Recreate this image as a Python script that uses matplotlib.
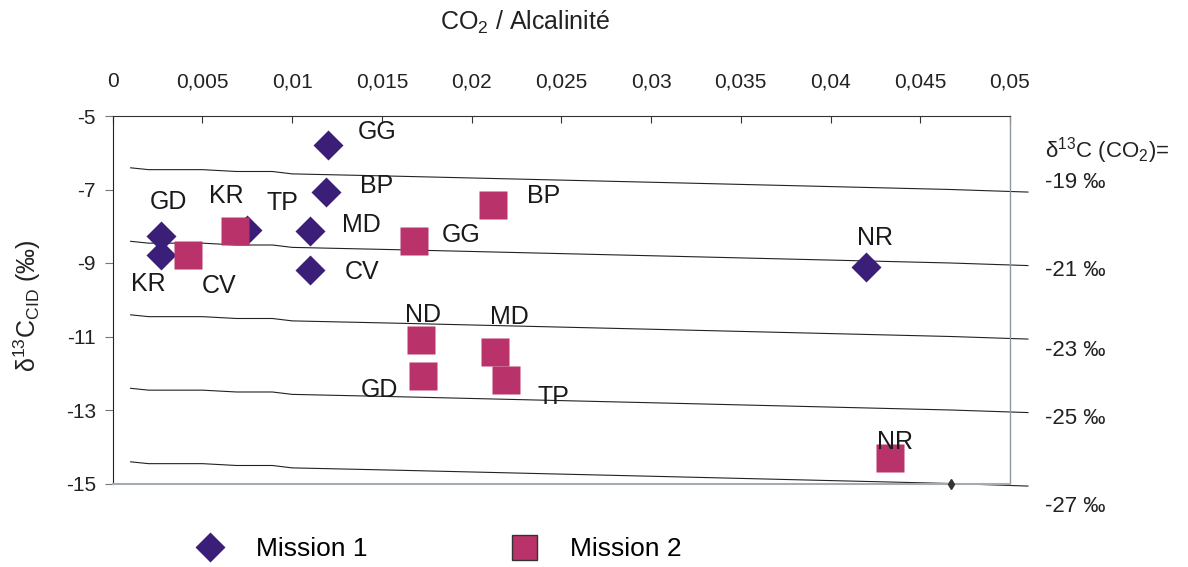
import matplotlib
matplotlib.use("Agg")
import matplotlib.pyplot as plt

plt.rcParams['font.family'] = ['Liberation Sans', 'DejaVu Sans']
plt.rcParams['mathtext.fontset'] = 'custom'
plt.rcParams['mathtext.rm'] = 'Liberation Sans'
plt.rcParams['mathtext.it'] = 'Liberation Sans'
plt.rcParams['axes.unicode_minus'] = False

# Mission 1 (losanges)
m1_sites = ['GG', 'BP', 'MD', 'CV', 'GD', 'KR', 'TP', 'NR']
m1_x = [0.0120, 0.0119, 0.0110, 0.0110, 0.0027, 0.0027, 0.0075, 0.0420]
m1_y = [-5.79, -7.08, -8.12, -9.20, -8.27, -8.77, -8.10, -9.10]

# Mission 2 (carres)
m2_sites = ['CV', 'KR', 'GG', 'BP', 'ND', 'GD', 'MD', 'TP', 'NR']
m2_x = [0.0042, 0.0068, 0.0168, 0.0212, 0.0172, 0.0173, 0.0213, 0.0219, 0.0433]
m2_y = [-8.79, -8.14, -8.41, -7.43, -11.09, -12.07, -11.42, -12.18, -14.31]

# courbes d13C(CO2) = -19 ... -27 permil
ref_x = [0.001, 0.002, 0.005, 0.0069, 0.0089, 0.010, 0.016, 0.0315, 0.0467, 0.051]
line_19 = [-6.41, -6.46, -6.46, -6.51, -6.51, -6.575, -6.64, -6.82, -7.00, -7.07]
line_21 = [-8.41, -8.46, -8.46, -8.51, -8.51, -8.575, -8.64, -8.82, -9.00, -9.07]
line_23 = [-10.41, -10.46, -10.46, -10.51, -10.51, -10.575, -10.64, -10.82, -11.00, -11.07]
line_25 = [-12.41, -12.46, -12.46, -12.51, -12.51, -12.575, -12.64, -12.82, -13.00, -13.07]
line_27 = [-14.41, -14.46, -14.46, -14.51, -14.51, -14.575, -14.64, -14.82, -15.00, -15.07]
ref_lines = [line_19, line_21, line_23, line_25, line_27]
ref_names = ['-19 ‰', '-21 ‰', '-23 ‰', '-25 ‰', '-27 ‰']

x_ticks = [0, 0.005, 0.01, 0.015, 0.02, 0.025, 0.03, 0.035, 0.04, 0.045, 0.05]
x_ticklabels = ['0', '0,005', '0,01', '0,015', '0,02', '0,025', '0,03', '0,035',
                '0,04', '0,045', '0,05']
y_ticks = [-15, -13, -11, -9, -7, -5]

# label offsets in pixels (dx right, dy down)
m1_off = {'GG': (49, -13), 'BP': (50, -6), 'MD': (51, -6), 'CV': (52, 2),
          'GD': (7, -34), 'KR': (-13, 29), 'TP': (35, -27), 'NR': (9, -29)}
m2_off = {'CV': (31, 31), 'KR': (-8, -35), 'GG': (47, -6), 'BP': (50, -9),
          'ND': (2, -25), 'GD': (-44, 14), 'MD': (14, -35), 'TP': (48, 17),
          'NR': (5, -16)}

c1 = '#3b1e77'
c2 = '#b9336a'

fig = plt.figure(figsize=(11.88, 5.67), dpi=100)
ax = fig.add_axes([112.7 / 1188, 1 - 483.5 / 567, (1010 - 112.7) / 1188, (483.5 - 116) / 567])

for ly in ref_lines:
    ax.plot(ref_x, ly, color='#222222', lw=0.8, clip_on=False, zorder=2)
ax.plot([ref_x[8]], [line_27[8]], marker='d', color='#333333', ms=5, clip_on=False, zorder=3)

ax.plot(m1_x, m1_y, 'D', color=c1, ms=15, mec='none', label='Mission 1', zorder=4)
ax.plot(m2_x, m2_y, 's', color=c2, ms=20.5, mec='none', label='Mission 2', zorder=5)

for name, x, y in zip(m1_sites, m1_x, m1_y):
    dx, dy = m1_off[name]
    ax.annotate(name, (x, y), xytext=(dx * 0.72, -dy * 0.72), textcoords='offset points',
                ha='center', va='center', fontsize=18, color='#1a1a1a', zorder=6)
for name, x, y in zip(m2_sites, m2_x, m2_y):
    dx, dy = m2_off[name]
    ax.annotate(name, (x, y), xytext=(dx * 0.72, -dy * 0.72), textcoords='offset points',
                ha='center', va='center', fontsize=18, color='#1a1a1a', zorder=6)

ax.set_xlim(0, 0.05)
ax.set_ylim(-15, -5)
ax.xaxis.tick_top()
ax.set_xticks(x_ticks)
ax.set_xticklabels(x_ticklabels)
ax.set_yticks(y_ticks)
ax.tick_params(axis='x', direction='in', length=5, width=0.8, color='#333333',
               labelsize=15, pad=18, labelcolor='#222222')
ax.tick_params(axis='y', direction='out', length=6, width=0.8, color='#777777',
               labelsize=15, pad=6, labelcolor='#222222')

ax.spines['left'].set_color('#222222')
ax.spines['top'].set_color('#333333')
ax.spines['bottom'].set_color('#a4abb3')
ax.spines['bottom'].set_linewidth(1.5)
ax.spines['right'].set_color('#8f969e')
ax.spines['right'].set_linewidth(1.0)

fig.text(525 / 1188, 1 - 22 / 567, 'CO$_2$ / Alcalinité', ha='center', va='center',
         fontsize=18, color='#222222')
fig.text(27 / 1188, 1 - 306 / 567, 'δ$^{13}$C$_{\\rm CID}$ (‰)', rotation=90,
         ha='center', va='center', fontsize=18, color='#222222')

fig.text(1045 / 1188, 1 - 151 / 567, 'δ$^{13}$C (CO$_2$)=', ha='left', va='center',
         fontsize=16, color='#222222')
for name, yp in zip(ref_names, [183, 270, 350, 418, 506]):
    fig.text(1045 / 1188, 1 - yp / 567, name, ha='left', va='center', fontsize=16,
             color='#222222')

leg = fig.legend(loc='center left', bbox_to_anchor=(197 / 1188, 1 - 549 / 567), ncol=2,
                 frameon=False, fontsize=19, handlelength=1.0, handletextpad=1.25,
                 columnspacing=5.4, borderpad=0, borderaxespad=0)
leg.legend_handles[1].set_markeredgecolor('#333333')
leg.legend_handles[1].set_markersize(18)

fig.savefig('out.png', dpi=100)
